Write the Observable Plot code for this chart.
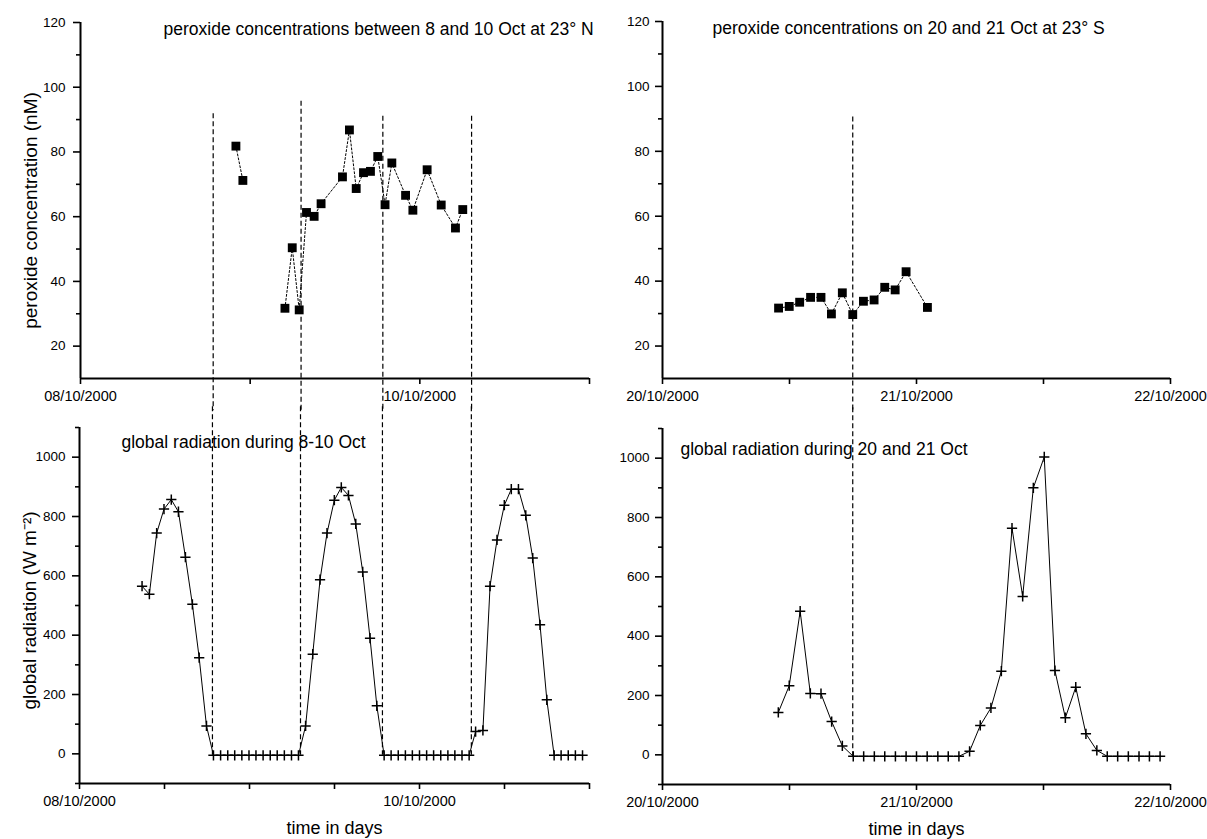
<!DOCTYPE html>
<html><head><meta charset="utf-8">
<script src="https://cdn.jsdelivr.net/npm/d3@7"></script>
<script src="https://cdn.jsdelivr.net/npm/@observablehq/plot@0.6"></script>
<style>
body{margin:0;background:#fff;}
#wrap{position:relative;width:1207px;height:839px;background:#fff;font-family:"Liberation Sans",Arial,sans-serif;}
.panel{position:absolute;}
</style></head><body>
<div id="wrap">
  <div class="panel" id="tl" style="left:0;top:0;width:600px;height:410px"></div>
  <div class="panel" id="tr" style="left:600px;top:0;width:607px;height:410px"></div>
  <div class="panel" id="bl" style="left:0;top:410px;width:600px;height:429px"></div>
  <div class="panel" id="br" style="left:600px;top:410px;width:607px;height:429px"></div>
</div>
<script>
// ---- Titles and labels ----
const titleTL = "peroxide concentrations between 8 and 10 Oct at 23° N";
const titleTR = "peroxide concentrations on 20 and 21 Oct at 23° S";
const titleBL = "global radiation during 8-10 Oct";
const titleBR = "global radiation during 20 and 21 Oct";
const yLabelTop = "peroxide concentration (nM)";
const yLabelBottom = "global radiation (W m\u207B\u00B2)";
const xLabelBottom = "time in days";

// ---- Tick labels (days counted from first date of each panel) ----
const leftDateDays = [0, 2];
const leftDateLabels = ["08/10/2000", "10/10/2000"];
const rightDateDays = [0, 1, 2];
const rightDateLabels = ["20/10/2000", "21/10/2000", "22/10/2000"];
const tlXTicks = [0, 1, 2, 3];
const blXTicks = [0, 0.5, 1, 1.5, 2, 2.5, 3];
const rXTicks = [0, 0.5, 1, 1.5, 2];
const peroxMajor = [20, 40, 60, 80, 100, 120];
const peroxMinor = [30, 50, 70, 90, 110];
const radMajor = [0, 200, 400, 600, 800, 1000];
const radMinor = [-100, 100, 300, 500, 700, 900, 1100];
const peroxDomain = [10, 120];
const radDomain = [-100, 1100];
const leftDayDomain = [0, 3];
const rightDayDomain = [0, 2];

// ---- Peroxide, 8-10 Oct (days since 08/10/2000) ----
const tlTime = [0.916, 0.957, 1.205, 1.248, 1.289, 1.332, 1.377, 1.418, 1.544, 1.585, 1.625, 1.668, 1.709, 1.752, 1.795, 1.835, 1.916, 1.959, 2.043, 2.126, 2.210, 2.253];
const tlPerox = [81.8, 71.2, 31.7, 50.4, 31.2, 61.3, 60.1, 64.0, 72.3, 86.8, 68.7, 73.6, 74.0, 78.6, 63.7, 76.6, 66.6, 62.0, 74.5, 63.6, 56.5, 62.2];
const tlSegment = [1, 1, 2, 2, 2, 2, 2, 2, 2, 2, 2, 2, 2, 2, 2, 2, 2, 2, 2, 2, 2, 2];

// ---- Peroxide, 20-21 Oct (days since 20/10/2000) ----
const trTime = [0.457, 0.499, 0.540, 0.583, 0.624, 0.665, 0.708, 0.749, 0.791, 0.833, 0.875, 0.916, 0.959, 1.043];
const trPerox = [31.7, 32.2, 33.5, 35.0, 35.0, 29.9, 36.4, 29.7, 33.8, 34.2, 38.1, 37.3, 42.9, 31.9];

// ---- Sunrise / sunset markers (dashed lines) ----
const leftSunTimes = [0.782, 1.300, 1.782, 2.305];
const leftSunTop = [91.8, 95.7, 91.0, 91.0];
const rightSunTimes = [0.749];
const rightSunTop = [90.6];

// ---- Global radiation, 8-10 Oct ----
const blTime = [0.368, 0.411, 0.454, 0.497, 0.540, 0.582, 0.623, 0.664, 0.704, 0.747,
  0.788, 0.830, 0.872, 0.913, 0.955, 0.997, 1.038, 1.080, 1.122, 1.163, 1.205, 1.247, 1.288,
  1.330, 1.372, 1.415, 1.456, 1.499, 1.540, 1.582, 1.625, 1.666, 1.709, 1.749,
  1.792, 1.833, 1.875, 1.917, 1.958, 2.000, 2.042, 2.083, 2.125, 2.167, 2.208, 2.250, 2.292,
  2.330, 2.373, 2.415, 2.456, 2.499, 2.540, 2.582, 2.625, 2.666, 2.709, 2.749,
  2.792, 2.833, 2.875, 2.917, 2.959];
const blRad = [565, 538, 744, 825, 857, 816, 663, 504, 324, 94,
  -5, -5, -5, -5, -5, -5, -5, -5, -5, -5, -5, -5, -5,
  94, 336, 587, 744, 855, 898, 871, 775, 613, 390, 162,
  -5, -5, -5, -5, -5, -5, -5, -5, -5, -5, -5, -5, -5,
  75, 79, 565, 721, 838, 892, 892, 804, 660, 435, 182,
  -5, -5, -5, -5, -5];

// ---- Global radiation, 20-21 Oct ----
const brTime = [0.456, 0.499, 0.542, 0.582, 0.624, 0.666, 0.708,
  0.751, 0.792, 0.834, 0.875, 0.917, 0.959, 1.000, 1.042, 1.084, 1.125, 1.167,
  1.209, 1.251, 1.293, 1.334, 1.376, 1.418, 1.460, 1.503, 1.545, 1.586, 1.627, 1.667, 1.710,
  1.751, 1.792, 1.834, 1.876, 1.917, 1.959];
const brRad = [143, 233, 484, 207, 206, 112, 30,
  -5, -5, -5, -5, -5, -5, -5, -5, -5, -5, -5,
  12, 99, 158, 282, 764, 534, 900, 1004, 284, 125, 228, 71, 15,
  -5, -5, -5, -5, -5, -5];

// ---- helpers ----
const rows = (t, v, extra = {}) => t.map((d, i) => {
  const o = {t: d, v: v[i]};
  for (const k in extra) o[k] = extra[k][i];
  return o;
});
const FONT = '"Liberation Sans", Arial, sans-serif';
const labelMap = (days, labels) => new Map(days.map((d, i) => [d, labels[i]]));

function axesMarks({xTicks, xLabels, yMajor, yMinor, xDomain, yDomain, yPad}) {
  return [
    Plot.axisX({ticks: xTicks, tickSize: 6, tickPadding: 6, strokeWidth: 1.6, fontSize: 14.5,
      tickFormat: d => xLabels.get(d) ?? "", label: null}),
    Plot.axisY({ticks: yMajor, tickSize: 7, tickPadding: yPad, strokeWidth: 1.6, fontSize: 13.5,
      tickFormat: d => String(d), label: null}),
    Plot.axisY({ticks: yMinor, tickSize: 4, strokeWidth: 1.6, tickFormat: () => "", label: null}),
    Plot.ruleX([xDomain[0]], {stroke: "black", strokeWidth: 2}),
    Plot.ruleY([yDomain[0]], {stroke: "black", strokeWidth: 2})
  ];
}

function make(id, opts, marks) {
  const chart = Plot.plot({
    width: opts.width, height: opts.height,
    marginLeft: opts.ml, marginRight: opts.mr, marginTop: opts.mt, marginBottom: opts.mb,
    style: {background: "transparent", overflow: "visible", fontFamily: FONT, fontSize: "13.5px", color: "black"},
    x: {domain: opts.xDomain, label: null},
    y: {domain: opts.yDomain, label: null},
    marks
  });
  document.getElementById(id).appendChild(chart);
}

// ---- top-left ----
const tlData = rows(tlTime, tlPerox, {seg: tlSegment});
const tlSun = rows(leftSunTimes, leftSunTop);
make("tl", {width: 600, height: 410, ml: 80, mr: 11, mt: 22, mb: 32, xDomain: leftDayDomain, yDomain: peroxDomain}, [
  ...axesMarks({xTicks: tlXTicks, xLabels: labelMap(leftDateDays, leftDateLabels), yMajor: peroxMajor, yMinor: peroxMinor, xDomain: leftDayDomain, yDomain: peroxDomain, yPad: 8}),
  Plot.ruleX(tlSun, {x: "t", y1: "v", y2: 0, stroke: "black", strokeWidth: 1.2, strokeDasharray: "5,3"}),
  Plot.line(tlData, {x: "t", y: "v", z: "seg", stroke: "black", strokeWidth: 1, strokeDasharray: "2,2"}),
  Plot.dot(tlData, {x: "t", y: "v", symbol: "square", r: 5, fill: "black", stroke: null}),
  Plot.text([titleTL], {frameAnchor: "top-left", dx: 83, dy: 7, textAnchor: "start", lineAnchor: "middle", fontSize: 17.5}),
  Plot.text([yLabelTop], {frameAnchor: "left", rotate: -90, dx: -50, dy: 10, textAnchor: "middle", lineAnchor: "middle", fontSize: 19})
]);

// ---- top-right ----
const trData = rows(trTime, trPerox);
const trSun = rows(rightSunTimes, rightSunTop);
make("tr", {width: 607, height: 410, ml: 62, mr: 37, mt: 21, mb: 32, xDomain: rightDayDomain, yDomain: peroxDomain}, [
  ...axesMarks({xTicks: rXTicks, xLabels: labelMap(rightDateDays, rightDateLabels), yMajor: peroxMajor, yMinor: peroxMinor, xDomain: rightDayDomain, yDomain: peroxDomain, yPad: 6}),
  Plot.ruleX(trSun, {x: "t", y1: "v", y2: 0, stroke: "black", strokeWidth: 1.2, strokeDasharray: "5,3"}),
  Plot.line(trData, {x: "t", y: "v", stroke: "black", strokeWidth: 1, strokeDasharray: "2,2"}),
  Plot.dot(trData, {x: "t", y: "v", symbol: "square", r: 5, fill: "black", stroke: null}),
  Plot.text([titleTR], {frameAnchor: "top-left", dx: 50, dy: 7, textAnchor: "start", lineAnchor: "middle", fontSize: 17.5})
]);

// ---- bottom-left ----
const blData = rows(blTime, blRad);
make("bl", {width: 600, height: 429, ml: 79, mr: 11, mt: 17, mb: 56, xDomain: leftDayDomain, yDomain: radDomain}, [
  ...axesMarks({xTicks: blXTicks, xLabels: labelMap(leftDateDays, leftDateLabels), yMajor: radMajor, yMinor: radMinor, xDomain: leftDayDomain, yDomain: radDomain, yPad: 7}),
  Plot.ruleX(tlSun, {x: "t", y1: 1170, y2: -5, stroke: "black", strokeWidth: 1.2, strokeDasharray: "5,3"}),
  Plot.line(blData, {x: "t", y: "v", stroke: "black", strokeWidth: 1}),
  Plot.dot(blData, {x: "t", y: "v", symbol: "plus", r: 3.4, stroke: "black", strokeWidth: 1.5}),
  Plot.text([titleBL], {frameAnchor: "top-left", dx: 42, dy: 15, textAnchor: "start", lineAnchor: "middle", fontSize: 17.5}),
  Plot.text([yLabelBottom], {frameAnchor: "left", rotate: -90, dx: -50, dy: 5, textAnchor: "middle", lineAnchor: "middle", fontSize: 19}),
  Plot.text([xLabelBottom], {frameAnchor: "bottom", dy: 45, textAnchor: "middle", lineAnchor: "middle", fontSize: 18})
]);

// ---- bottom-right ----
const brData = rows(brTime, brRad);
make("br", {width: 607, height: 429, ml: 62, mr: 37, mt: 18, mb: 55, xDomain: rightDayDomain, yDomain: radDomain}, [
  ...axesMarks({xTicks: rXTicks, xLabels: labelMap(rightDateDays, rightDateLabels), yMajor: radMajor, yMinor: radMinor, xDomain: rightDayDomain, yDomain: radDomain, yPad: 6}),
  Plot.ruleX(trSun, {x: "t", y1: 1170, y2: -5, stroke: "black", strokeWidth: 1.2, strokeDasharray: "5,3"}),
  Plot.line(brData, {x: "t", y: "v", stroke: "black", strokeWidth: 1}),
  Plot.dot(brData, {x: "t", y: "v", symbol: "plus", r: 3.4, stroke: "black", strokeWidth: 1.5}),
  Plot.text([titleBR], {frameAnchor: "top-left", dx: 18, dy: 21, textAnchor: "start", lineAnchor: "middle", fontSize: 17.5}),
  Plot.text([xLabelBottom], {frameAnchor: "bottom", dy: 45, textAnchor: "middle", lineAnchor: "middle", fontSize: 18})
]);
</script>
</body></html>
